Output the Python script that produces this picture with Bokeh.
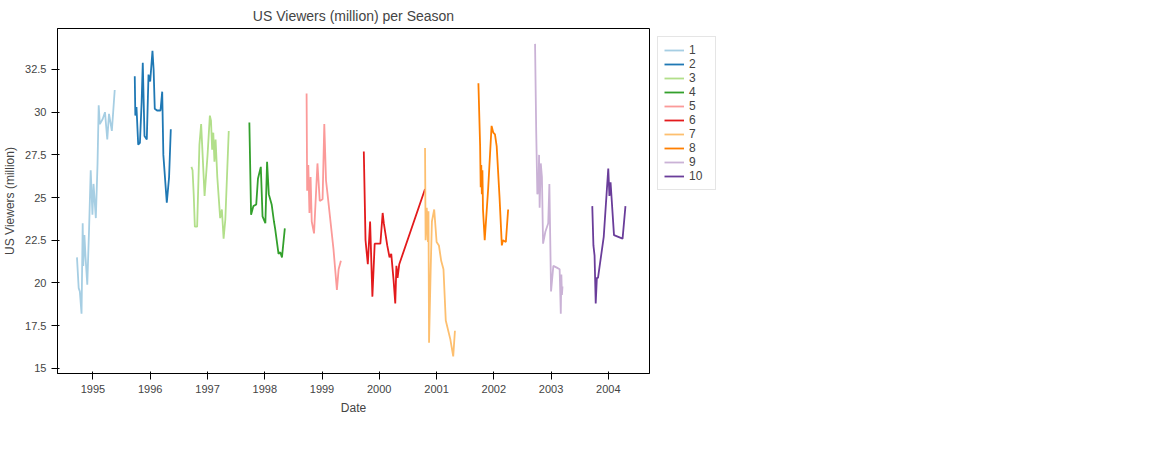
from datetime import datetime, timedelta
import numpy as np
from bokeh.plotting import figure
from bokeh.layouts import row
from bokeh.models import Legend, LegendItem, Range1d, DatetimeTickFormatter, YearsTicker, FixedTicker
from bokeh.embed import file_html
from bokeh.resources import INLINE

seasons = [1, 2, 3, 4, 5, 6, 7, 8, 9, 10]
colors = ["#a6cee3", "#1f78b4", "#b2df8a", "#33a02c", "#fb9a99",
          "#e31a1c", "#fdbf6f", "#ff7f00", "#cab2d6", "#6a3d9a"]

# decimal-year air dates and US viewers (million)
s1_t = [1994.72, 1994.75, 1994.77, 1994.80, 1994.82, 1994.83, 1994.85, 1994.87, 1994.90, 1994.93, 1994.96, 1994.99,
        1995.01, 1995.05, 1995.08, 1995.10, 1995.12, 1995.17, 1995.21, 1995.25, 1995.28, 1995.33, 1995.38]
s1_v = [21.5, 19.7, 19.5, 18.2, 23.5, 21.0, 22.8, 21.5, 19.9, 23.0, 26.6, 24.0,
        25.8, 23.8, 27.0, 30.4, 29.3, 29.6, 30.0, 28.4, 29.9, 28.9, 31.3]
s2_t = [1995.73, 1995.74, 1995.76, 1995.79, 1995.82, 1995.85, 1995.87, 1995.90, 1995.94, 1995.97, 1996.00, 1996.04,
        1996.06, 1996.08, 1996.12, 1996.18, 1996.21, 1996.23, 1996.29, 1996.33, 1996.36]
s2_v = [32.1, 29.8, 30.3, 28.1, 28.2, 30.6, 32.9, 28.6, 28.4, 32.2, 31.8, 33.6,
        32.5, 30.2, 30.1, 30.1, 31.2, 27.5, 24.7, 26.2, 29.0]
s3_t = [1996.72, 1996.74, 1996.76, 1996.78, 1996.82, 1996.86, 1996.89, 1996.95, 1997.00, 1997.04, 1997.06, 1997.08,
        1997.10, 1997.12, 1997.14, 1997.17, 1997.22, 1997.25, 1997.28, 1997.31, 1997.37]
s3_v = [26.8, 26.6, 25.2, 23.3, 23.3, 28.1, 29.3, 25.1, 27.5, 29.8, 29.5, 27.8,
        28.8, 27.1, 28.4, 26.2, 23.8, 24.3, 22.6, 23.7, 28.9]
s4_t = [1997.73, 1997.76, 1997.80, 1997.85, 1997.88, 1997.93, 1997.96, 1998.01, 1998.04, 1998.07, 1998.12, 1998.16,
        1998.18, 1998.24, 1998.27, 1998.30, 1998.35]
s4_v = [29.4, 24.0, 24.5, 24.6, 26.1, 26.8, 23.9, 23.5, 27.1, 25.2, 24.6, 23.6,
        23.2, 21.7, 21.8, 21.5, 23.2]
s5_t = [1998.73, 1998.74, 1998.76, 1998.78, 1998.80, 1998.82, 1998.86, 1998.92, 1998.96, 1999.01, 1999.04, 1999.07,
        1999.10, 1999.20, 1999.26, 1999.29, 1999.33]
s5_v = [31.1, 25.4, 26.9, 24.1, 26.2, 23.6, 22.9, 27.0, 24.8, 24.9, 29.3, 26.0,
        25.1, 22.0, 19.6, 20.8, 21.3]
s6_t = [1999.73, 1999.76, 1999.80, 1999.84, 1999.88, 1999.92, 1999.97, 2000.02, 2000.06, 2000.08, 2000.14, 2000.18,
        2000.21, 2000.25, 2000.28, 2000.30, 2000.32, 2000.35, 2000.80]
s6_v = [27.7, 22.5, 21.1, 23.6, 19.2, 22.3, 22.3, 22.3, 24.1, 23.5, 22.2, 21.5,
        21.7, 20.2, 18.8, 21.0, 20.3, 21.1, 25.5]
s7_t = [2000.80, 2000.81, 2000.83, 2000.85, 2000.86, 2000.87, 2000.90, 2000.92, 2000.96, 2001.00, 2001.04, 2001.08,
        2001.12, 2001.16, 2001.24, 2001.29, 2001.32]
s7_v = [27.9, 22.5, 24.4, 22.4, 24.2, 16.5, 21.0, 23.6, 24.3, 22.4, 22.2, 21.3,
        20.8, 17.8, 16.7, 15.7, 17.2]
s8_t = [2001.73, 2001.76, 2001.77, 2001.78, 2001.79, 2001.80, 2001.81, 2001.84, 2001.90, 2001.96, 2001.99, 2002.02,
        2002.05, 2002.10, 2002.14, 2002.16, 2002.21, 2002.25]
s8_v = [31.7, 28.0, 25.6, 26.9, 25.2, 26.6, 24.3, 22.5, 25.5, 29.2, 28.8, 28.7,
        28.0, 25.0, 22.2, 22.5, 22.4, 24.3]
s9_t = [2002.72, 2002.74, 2002.76, 2002.78, 2002.79, 2002.80, 2002.82, 2002.84, 2002.86, 2002.90, 2002.95, 2002.97,
        2003.00, 2003.04, 2003.10, 2003.15, 2003.17, 2003.18, 2003.19, 2003.20]
s9_v = [34.0, 28.9, 25.2, 25.4, 27.5, 24.4, 27.0, 26.2, 22.3, 23.0, 23.5, 25.8,
        19.5, 21.0, 20.9, 20.8, 18.2, 20.5, 19.3, 19.8]
s10_t = [2003.72, 2003.74, 2003.76, 2003.78, 2003.80, 2003.82, 2003.92, 2004.00, 2004.02, 2004.04, 2004.10, 2004.25,
         2004.30]
s10_v = [24.5, 22.2, 21.6, 18.8, 20.3, 20.3, 22.7, 26.7, 25.1, 25.9, 22.8, 22.6, 24.5]

season_t = [s1_t, s2_t, s3_t, s4_t, s5_t, s6_t, s7_t, s8_t, s9_t, s10_t]
season_v = [s1_v, s2_v, s3_v, s4_v, s5_v, s6_v, s7_v, s8_v, s9_v, s10_v]

box_seasons = ["1", "2", "6", "9", "10"]
box_colors = ["#3274a1", "#e1812c", "#3a923a", "#c03d3e", "#9372b2"]


def to_date(y):
    year = int(y)
    start = datetime(year, 1, 1)
    return start + timedelta(days=(y - year) * 365.25)


p = figure(frame_width=592, frame_height=345, x_axis_type="datetime", output_backend="svg",
           toolbar_location=None, title="US Viewers (million) per Season",
           x_axis_label="Date", y_axis_label="US Viewers (million)",
           min_border_left=10, min_border_right=10)
p.x_range = Range1d(to_date(1994.38), to_date(2004.72))
p.y_range = Range1d(14.7, 34.9)
items = []
for s, t, v, c in zip(seasons, season_t, season_v, colors):
    r = p.line([to_date(x) for x in t], v, line_color=c, line_width=1.8)
    items.append(LegendItem(label=str(s), renderers=[r]))
legend = Legend(items=items, label_text_font_size="12px", glyph_height=12, spacing=0,
                padding=6, margin=8, border_line_color="#cccccc", location="top_left")
p.add_layout(legend, "right")
p.xaxis.ticker = YearsTicker(desired_num_ticks=10)
p.xaxis.formatter = DatetimeTickFormatter(years="%Y", months="%Y")
p.yaxis.ticker = FixedTicker(ticks=[15, 17.5, 20, 22.5, 25, 27.5, 30, 32.5])
p.title.align = "center"
p.title.text_font_size = "14px"
p.title.text_font_style = "normal"
p.xgrid.visible = False
p.ygrid.visible = False
p.outline_line_color = "black"
for ax in (p.xaxis[0], p.yaxis[0]):
    ax.major_label_text_font_size = "11px"
    ax.axis_label_text_font_size = "12px"
    ax.axis_label_text_font_style = "normal"
    ax.minor_tick_line_color = None
    ax.axis_line_color = "black"

# box plot
q = figure(frame_width=412, frame_height=398, x_range=box_seasons, output_backend="svg",
           toolbar_location=None, title="Box Plots: US Viewers (million) per Season",
           x_axis_label="season", y_axis_label="us_viewers_mill",
           min_border_left=10, min_border_right=2)
for name, c in zip(box_seasons, box_colors):
    v = np.array(season_v[seasons.index(int(name))])
    q1, med, q3 = np.percentile(v, [25, 50, 75])
    iqr = q3 - q1
    inside = v[(v >= q1 - 1.5 * iqr) & (v <= q3 + 1.5 * iqr)]
    lo, hi = inside.min(), inside.max()
    out = v[(v < lo) | (v > hi)]
    q.segment([name, name], [lo, q3], [name, name], [q1, hi], line_color="#3d3d3d", line_width=1.2)
    q.segment([(name, -0.2)], [lo], [(name, 0.2)], [lo], line_color="#3d3d3d", line_width=1.2)
    q.segment([(name, -0.2)], [hi], [(name, 0.2)], [hi], line_color="#3d3d3d", line_width=1.2)
    q.vbar(x=[name], bottom=[q1], top=[q3], width=0.8, fill_color=c, line_color="#3d3d3d", line_width=1.2)
    q.segment([(name, -0.4)], [med], [(name, 0.4)], [med], line_color="#3d3d3d", line_width=1.2)
    if len(out):
        q.scatter([name] * len(out), out, marker="diamond", size=6, fill_color="#3d3d3d", line_color="#3d3d3d")
q.y_range = Range1d(17.4, 34.8)
q.yaxis.ticker = FixedTicker(ticks=[18, 20, 22, 24, 26, 28, 30, 32, 34])
q.title.align = "center"
q.title.text_font_size = "9px"
q.title.text_font_style = "normal"
q.xgrid.visible = False
q.ygrid.visible = False
q.outline_line_color = "black"
for ax in (q.xaxis[0], q.yaxis[0]):
    ax.major_label_text_font_size = "8px"
    ax.axis_label_text_font_size = "8px"
    ax.axis_label_text_font_style = "normal"
    ax.minor_tick_line_color = None
    ax.axis_line_color = "black"

layout = row(p, q)
open("out.html", "w").write(file_html(layout, INLINE))
